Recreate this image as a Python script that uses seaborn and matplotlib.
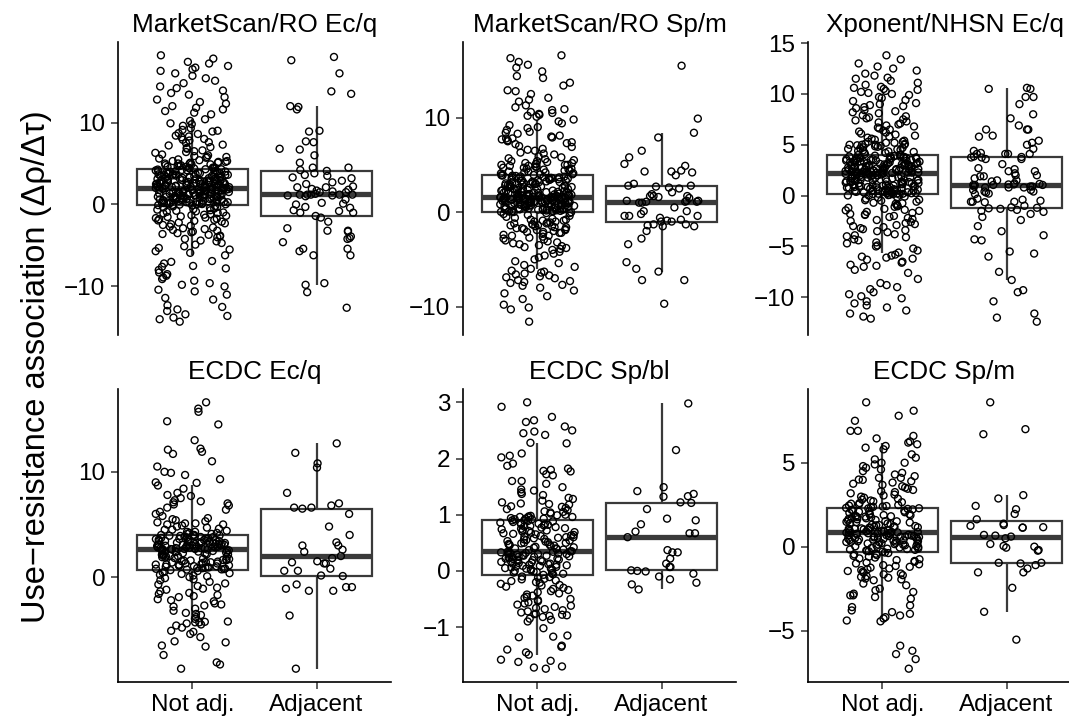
import numpy as np
import pandas as pd
import matplotlib
matplotlib.use("Agg")
import matplotlib.pyplot as plt
from matplotlib.collections import PathCollection
from matplotlib.ticker import MultipleLocator
import seaborn as sns

# ---------------- data ----------------
panel_titles = ["MarketScan/RO Ec/q", "MarketScan/RO Sp/m", "Xponent/NHSN Ec/q",
                "ECDC Ec/q", "ECDC Sp/bl", "ECDC Sp/m"]
groups = ["Not adj.", "Adjacent"]
y_label = "Use\u2212resistance association (\u0394\u03c1/\u0394\u03c4)"

p1_not = [
    18.2, 17.8, 17.4, 17.2, 16.9, 16.7, 16.5, 16.3, 16.0, 15.7, 15.4, 15.1, 14.8, 14.4,
    14.2, 13.9, 13.6, 13.4, 13.1, 12.8, 12.5, 12.3, 12.0, 11.8, 11.6, 11.4, 11.2, 11.0,
    10.4, 10.2, 9.9, 9.8, 9.6, 9.3, 9.1, 9.0,
    8.9, 8.7, 8.6, 8.4, 8.3, 8.2, 8.0, 7.9, 7.8, 7.6, 7.5, 7.3, 7.2, 7.0, 6.9, 6.8, 6.6,
    6.5, 6.4, 6.3, 6.1, 6.0, 5.9, 5.8, 5.8, 5.7, 5.6, 5.5, 5.4, 5.3, 5.3, 5.2, 5.2, 5.1,
    5.1, 5.0, 5.0, 5.0,
    4.9, 4.9, 4.8, 4.8, 4.7, 4.7, 4.6, 4.6, 4.5, 4.5, 4.5, 4.4, 4.4, 4.4, 4.3, 4.3,
    3.12, 2.45, 4.08, 2.87, 3.66, 2.19, 3.94, 2.71, 3.38, 2.03,
    2.56, 4.21, 3.02, 2.34, 3.81, 2.92, 2.11, 3.47, 4.15, 2.63,
    3.29, 2.08, 3.73, 2.49, 2.98, 4.02, 2.27, 3.55, 2.81, 3.17,
    2.14, 3.88, 2.67, 3.41, 2.39, 4.26, 3.06, 2.52, 3.62, 2.22,
    2.95, 3.34, 2.06, 3.99, 2.76, 3.21, 2.43, 3.77, 2.31, 4.11,
    2.59, 3.09, 2.17, 3.51, 2.84, 3.68, 2.01, 3.26, 2.68, 3.86,
    2.25, 3.44, 2.91, 4.18, 2.37, 3.14, 2.79, 3.59, 2.12, 3.71,
    2.48, 3.97, 2.64, 3.36, 2.04, 3.83, 2.89, 3.24, 2.55, 4.05,
    2.29, 3.57, 2.73, 3.11, 2.16, 3.48, 2.97, 2.41, 3.79, 2.61,
    1.12, 0.45, 1.87, 0.08, 1.36, 0.71, 1.64, 0.23, 1.95, 0.97,
    0.54, 1.48, -0.05, 1.21, 0.86, 1.73, 0.31, 1.05, 1.58, 0.15,
    1.91, 0.62, 1.29, 0.02, 1.44, 0.79, 1.68, 0.38, 1.16, 0.93,
    0.27, 1.82, 0.69, 1.33, -0.08, 1.52, 0.49, 1.09, 1.77, 0.11,
    1.39, 0.84, 1.62, 0.19, 1.98, 0.57, 1.26, 0.42, 1.71, 0.99,
    0.05, 1.55, 0.74, 1.18, 0.35, 1.85, 0.64, 1.42, 0.13, 1.03,
    1.66, 0.28, 1.24, 0.89, 1.93, 0.47, 1.57, 0.76, 1.14, 0.21,
    0.59, 1.79, 0.03, 1.31, 0.95, 1.47, 0.33, 1.69, 0.82, 1.07,
    1.88, 0.17, 1.35, 0.67, 1.61, 0.51, 1.19, -0.02, 1.74, 0.91,
    -14.3, -14.0, -13.8, -13.6, -13.4, -13.0, -12.8, -12.5, -12.3, -11.6, -11.4, -11.0,
    -10.6, -10.4, -10.0, -9.8, -9.6, -9.3, -9.1, -8.9, -8.7, -8.5, -8.3, -8.0, -7.8,
    -7.6, -7.5, -7.2, -7.0, -6.9,
    -6.2, -5.9, -5.7, -5.5, -5.3, -5.1,
    -4.9, -4.7, -4.5, -4.4, -4.2, -4.0, -3.9, -3.8, -3.7, -3.6, -3.5, -3.4, -3.3, -3.2,
    -3.1, -3.0, -2.9, -2.8, -2.7, -2.6, -2.5, -2.4, -2.3, -2.2, -2.1, -2.0,
    -1.95, -1.88, -1.8, -1.74, -1.66, -1.6, -1.52, -1.45, -1.38, -1.31, -1.25, -1.18,
    -1.1, -1.04, -0.97, -0.9, -0.84, -0.77, -0.7, -0.63, -0.57, -0.5, -0.44, -0.37,
    -0.3, -0.24, -0.17, -0.12,
]
p1_adj = [
    17.6, 18.0, 16.0, 13.8, 13.5, 11.9, 11.6, 12.0, 9.0, 8.9, 7.7, 7.6, 6.7, 6.8, 6.0,
    5.1, 4.5, 4.5, 3.3, 4.1, 3.5, 4.2, 3.8, 3.2, 3.6, 2.7, 2.9, 2.5, 2.2, 2.1, 1.7, 1.6,
    1.2, 1.1, 1.2, 1.8, 1.5, 2.1, 1.9, 1.5, 1.2, 1.3, 1.0, 1.2, 1.2, 1.1, 0.6, 0.1, 0.0,
    -0.3, 0.2, -0.8, -0.4, -1.0, -1.0, -0.7, -1.4, -1.6, -2.1, -2.9, -3.2, -3.3, -4.2,
    -4.1, -3.2, -3.9, -4.6, -5.4, -5.7, -5.4, -6.2, -6.2, -9.6, -9.8, -10.7, -12.6,
]

p2_not = [
    16.6, 16.3, 15.9, 15.6, 15.3, 14.9, 14.4, 14.2, 13.7, 13.4, 12.9, 12.8, 12.5, 12.1,
    11.9, 11.7, 11.3, 11.1, 10.9, 10.8, 10.6, 10.5, 10.4, 10.3, 10.2, 10.1,
    9.8, 9.6, 9.4, 9.2, 9.0, 8.9, 8.7, 8.5,
    8.4, 8.3, 8.1, 8.0, 7.9, 7.8, 7.8, 7.7, 7.6, 7.5, 7.4, 7.3, 7.2, 7.0, 6.9, 6.7, 6.6,
    6.5, 6.3, 6.2, 6.1, 5.9, 5.8, 5.7, 5.6, 5.5, 5.4, 5.4, 5.3, 5.2, 5.2, 5.1, 5.1, 5.0,
    5.0, 5.0,
    4.9, 4.9, 4.8, 4.8, 4.7, 4.7, 4.6, 4.6, 4.5, 4.5, 4.4, 4.4, 4.3, 4.3, 4.2, 4.2, 4.1,
    4.1, 4.0, 4.0,
    2.12, 3.45, 1.78, 2.96, 3.71, 1.63, 2.54, 3.18, 1.94, 3.87,
    2.38, 1.71, 3.29, 2.81, 1.59, 3.62, 2.07, 3.04, 2.47, 1.86,
    3.53, 2.23, 1.67, 3.91, 2.69, 1.99, 3.36, 2.58, 1.81, 3.09,
    2.74, 3.78, 1.61, 2.31, 3.22, 2.01, 3.57, 1.75, 2.88, 3.41,
    1.92, 3.14, 2.43, 3.83, 1.69, 2.63, 3.48, 2.17, 1.84, 2.99,
    3.67, 2.28, 1.58, 3.33, 2.91, 1.96, 3.75, 2.51, 2.04, 3.25,
    1.73, 2.77, 3.58, 2.19, 3.93, 1.65, 2.41, 3.11, 1.89, 2.66,
    3.44, 2.09, 2.84, 1.62, 3.68, 2.35, 3.01, 1.77, 2.56, 3.86,
    2.26, 3.39, 1.82, 2.93, 2.14, 3.63, 1.57, 2.71, 3.19, 2.45,
    0.82, 0.13, 1.41, 0.57, 1.09, -0.02, 1.28, 0.36, 0.95, 1.52,
    0.24, 1.17, 0.68, 1.46, 0.05, 0.88, 1.33, 0.44, 1.02, 0.71,
    1.38, 0.29, 0.93, 1.21, 0.09, 1.49, 0.61, 1.07, 0.39, 1.26,
    0.52, 1.44, 0.17, 0.79, 1.12, 0.32, 1.55, 0.66, 0.98, 0.01,
    1.31, 0.47, 1.05, 0.21, 1.36, 0.74, 1.19, 0.11, 0.86, 1.47,
    0.34, 0.97, 1.24, 0.59, 1.51, 0.07, 0.83, 1.14, 0.42, 1.29,
    1.03, 0.19, 1.42, 0.64, 0.91, 1.34, 0.27, 1.16, 0.55, 0.76,
    1.48, 0.38, 0.85, 1.09, 0.03, 1.27, 0.69, 1.39, 0.49, 0.94,
    0.15, 1.22, 0.78, 1.45, 0.31, 1.01, 0.58, 1.53, 0.26, 0.89,
    -11.6, -10.3, -10.1, -9.8, -9.2, -8.9, -8.6, -8.3, -8.0, -7.8, -7.7, -7.5, -7.4,
    -7.3, -7.2, -7.0, -6.9, -6.8, -6.7, -6.6, -6.5, -6.4, -6.3, -6.2,
    -6.0, -5.8, -5.6, -5.4, -5.2, -5.0, -4.8, -4.6, -4.4, -4.2,
    -4.0, -3.9, -3.8, -3.7, -3.6, -3.5, -3.4, -3.3, -3.2, -3.1, -3.0, -2.9, -2.8, -2.7,
    -2.6, -2.5, -2.5, -2.4, -2.3, -2.2, -2.2, -2.1, -2.1, -2.0,
    -1.9, -1.9, -1.8, -1.8, -1.7, -1.7, -1.6, -1.6, -1.5, -1.5, -1.4, -1.4, -1.3, -1.3,
    -1.2, -1.2, -1.1, -1.1, -1.0, -1.0, -0.9, -0.9, -0.8, -0.8, -0.7, -0.6, -0.5, -0.4,
    -0.3, -0.2, -0.1, -0.1,
]
p2_adj = [
    15.5, 9.9, 8.4, 7.9, 6.5, 5.8, 4.3, 4.3, 4.2, 5.1, 4.9, 4.4, 3.9, 3.0, 2.8, 2.5,
    2.1, 1.9, 1.7, 1.2, 1.2, 1.2, 1.1, 1.1, 1.6, 1.7, 1.0, 0.5, 1.0, 1.7, 1.5, 2.7, 2.8,
    2.6, 1.1, 0.1, -0.4, -0.9, 0.1, -0.2, -0.6, -0.4, -1.3, -1.5, -1.3, -1.0, -1.0, -0.4,
    -1.5, -0.8, -2.8, -3.4, -5.3, -6.0, -7.2, -7.2, -6.3, -9.7, -1.4, -2.0,
]

p3_not = [
    13.8, 13.4, 13.0, 12.7, 12.5, 12.3, 12.0, 11.8, 11.6, 11.5, 11.3, 11.1, 10.9, 10.7,
    10.6, 10.5, 10.4, 10.3, 10.2, 10.1, 10.0, 9.9,
    9.7, 9.6, 9.4, 9.3, 9.1, 9.0, 8.9, 8.8, 8.7, 8.6, 8.4, 8.3, 8.2, 8.1,
    7.9, 6.2, 7.4, 5.3, 6.8, 7.7, 5.6, 6.5, 7.1, 5.0, 6.0, 7.8, 5.4, 6.7, 7.3, 5.2, 6.3,
    7.6, 5.8, 6.9, 5.1, 7.0, 6.1, 5.5, 7.5, 6.6, 5.0, 5.9, 7.2, 5.3, 6.4, 5.7, 5.1, 5.2,
    5.0, 5.0,
    4.95, 4.9, 4.85, 4.8, 4.75, 4.7, 4.65, 4.6, 4.55, 4.5, 4.45, 4.4, 4.35, 4.3, 4.25,
    4.2, 4.1, 4.05,
    3.12, 2.45, 3.88, 2.71, 3.36, 2.24, 3.63, 2.97, 2.53, 3.91,
    2.33, 3.47, 2.86, 3.74, 2.28, 3.05, 2.61, 3.57, 2.39, 3.21,
    3.82, 2.67, 3.15, 2.21, 3.42, 2.92, 2.49, 3.69, 2.77, 3.28,
    2.57, 3.96, 2.36, 3.09, 2.83, 3.51, 2.26, 3.34, 2.64, 3.78,
    3.01, 2.42, 3.66, 2.89, 2.31, 3.19, 2.74, 3.85, 2.51, 3.44,
    2.69, 3.27, 2.23, 3.59, 2.95, 3.07, 2.47, 3.72, 2.35, 3.93,
    3.38, 2.79, 3.11, 2.55, 3.81, 2.29, 3.49, 2.66, 3.24, 2.98,
    2.41, 3.62, 2.84, 3.31, 2.22, 3.76, 2.59, 3.03, 2.73, 3.54,
    3.17, 2.37, 3.86, 2.62, 3.46, 2.91, 2.27, 3.68, 2.81, 3.99,
    1.12, 0.45, 1.87, 0.28, 1.36, 0.71, 2.04, 0.93, 1.64, 0.19,
    1.51, 0.62, 1.95, 0.37, 1.23, 0.84, 2.15, 0.51, 1.77, 1.02,
    0.24, 1.43, 0.79, 1.69, 0.16, 1.31, 2.09, 0.57, 1.16, 0.98,
    1.84, 0.33, 1.58, 0.67, 2.12, 0.88, 1.27, 0.42, 1.99, 0.74,
    0.53, 1.39, 0.21, 1.73, 1.06, 1.92, 0.61, 1.48, 0.35, 2.18,
    1.19, 0.81, 1.61, 0.14, 1.34, 0.96, 1.81, 0.47, 2.01, 0.69,
    1.56, 0.26, 1.09, 1.89, 0.58, 1.41, 0.77, 2.07, 0.39, 1.28,
    0.91, 1.66, 0.31, 1.21, 0.85, 1.97, 0.54, 1.46, 0.18, 1.75,
    1.04, 0.64, 1.53, 0.44, 2.14, 0.99, 1.37, 0.23, 1.79, 0.86,
    -12.1, -11.9, -11.6, -11.3, -11.0, -10.8, -10.6, -10.4, -10.1, -9.9, -9.7, -9.5,
    -9.2, -9.0, -8.8, -8.6, -8.2, -7.6, -7.3, -7.0, -6.9, -6.8, -6.6, -6.5, -6.3, -6.2,
    -6.1, -6.0, -5.9, -5.8,
    -5.6, -5.4, -5.2, -5.0, -4.9, -4.7, -4.6, -4.4, -4.3, -4.1, -4.0, -3.9, -3.8, -3.6,
    -3.5, -3.4, -3.3, -3.2, -3.1, -3.0,
    -2.9, -2.8, -2.7, -2.6, -2.5, -2.4, -2.3, -2.2, -2.1, -2.0, -1.9, -1.85, -1.8, -1.7,
    -1.6, -1.5, -1.45, -1.4, -1.3, -1.2, -1.1, -1.05, -1.0, -0.9, -0.8, -0.75, -0.7,
    -0.6, -0.5, -0.45, -0.4, -0.3, -0.2, -0.15, -0.1, 0.0, 0.02, 0.05, 0.08, 0.1,
]
p3_adj = [
    10.5, 10.5, 10.6, 9.7, 9.7, 9.0, 7.6, 8.0, 6.5, 6.9, 6.5, 6.5, 5.8, 5.9, 5.4, 5.0,
    4.2, 4.1, 4.1, 4.6, 4.1, 4.1, 3.6, 3.75, 3.75, 3.85, 3.6, 3.8, 3.1, 2.4, 1.9, 1.9,
    2.2, 2.4, 2.7, 2.0, 2.0, 2.6, 1.5, 1.2, 1.7, 1.4, 1.5, 1.1, 1.1, 1.05, 1.05, 1.05,
    1.15, 0.9, 0.9, 1.05, 0.8, 0.55, 0.4, 0.3, 0.2, 0.8, 0.8, 0.4, 0.15, 0.55, 0.9,
    -0.3, -0.4, -0.6, -0.65, -1.25, -1.0, -0.6, -0.5, -0.6, -1.5, -1.4, -3.0, -3.9,
    -3.5, -4.3, -4.4, -5.5, -5.7, -6.0, -7.5, -8.3, -9.5, -9.3, -10.4, -12.0, -11.6,
    -12.4, -1.3, -1.6, -2.1, -1.8, -1.2, -1.15, -2.4, 4.4, 5.2,
]

p4_not = [
    16.6, 16.0, 15.7, 14.8, 14.5, 13.0, 12.2, 12.1, 11.9, 11.7, 11.0, 10.5, 10.0, 9.9,
    9.7, 9.3, 9.0, 8.95,
    8.7, 8.4, 8.0, 7.8, 7.7, 7.5, 7.3, 7.2, 7.1, 7.0, 6.9, 6.8, 6.6, 6.4, 6.2, 6.0, 5.8,
    5.6, 5.5, 5.4, 5.3, 5.2, 5.1, 5.1, 5.0, 5.0,
    4.9, 4.8, 4.7, 4.6, 4.5, 4.5, 4.4, 4.3, 4.3, 4.2, 4.2, 4.1, 4.1, 4.0, 4.0, 4.0,
    3.12, 2.71, 3.84, 2.95, 3.46, 2.67, 3.63, 3.05, 2.88, 3.91,
    3.27, 2.79, 3.55, 2.64, 3.38, 3.01, 3.77, 2.92, 3.19, 2.83,
    3.69, 2.74, 3.31, 3.93, 2.98, 3.48, 2.69, 3.22, 3.81, 3.09,
    2.86, 3.58, 3.14, 2.77, 3.42, 3.72, 2.66, 3.35, 2.99, 3.88,
    3.24, 2.81, 3.67, 3.03, 3.51, 2.73, 3.17, 3.95, 2.91, 3.44,
    2.68, 3.29, 3.79, 3.07, 2.85, 3.61, 3.36, 2.76, 3.53, 3.11,
    1.52, 0.84, 2.31, 1.17, 1.96, 0.73, 2.48, 1.35, 1.04, 2.14,
    1.81, 0.95, 2.57, 1.26, 2.02, 0.79, 1.63, 2.39, 1.11, 1.44,
    2.22, 0.88, 1.71, 1.38, 2.55, 1.07, 1.89, 0.76, 2.09, 1.58,
    1.29, 2.44, 0.92, 1.75, 2.17, 1.21, 2.61, 1.47, 0.99, 1.93,
    2.35, 1.14, 1.67, 0.81, 2.06, 1.41, 2.52, 1.02, 1.84, 1.31,
    0.86, 2.27, 1.55, 2.59, 1.19, 1.99, 0.71, 2.42, 1.61, 2.12,
    -8.7, -8.3, -8.1, -7.4, -6.6, -6.5, -6.2, -6.1, -5.7, -5.4, -5.2, -5.1, -4.8, -4.6,
    -4.5, -4.4, -4.3, -4.3, -4.25, -4.22,
    -3.97, -3.8, -3.6, -3.5, -3.4, -3.2, -3.0, -2.8, -2.7, -2.6, -2.5, -2.3, -2.2, -2.1,
    0.66, 0.58, 0.51, 0.44, 0.37, 0.3, 0.22, 0.15, 0.08, 0.0, -0.1, -0.2, -0.3, -0.45,
    -0.6, -0.7, -0.85, -1.0, -1.1, -1.2, -1.35, -1.5, -1.6, -1.7, -1.8, -1.9,
]
p4_adj = [
    12.7, 11.8, 10.8, 10.4, 8.0, 7.0, 6.8, 6.6, 6.6, 6.5, 6.0, 4.8, 4.0, 3.3, 3.0, 3.0,
    2.6, 2.4, 2.0, 1.8, 1.5, 1.4, 1.3, 1.3, 0.8, 0.6, 0.6, 0.15, 0.1, -0.7, -0.95,
    -0.95, -1.1, -1.3, -1.3, -3.65, -8.7,
]

p5_not = [
    3.0, 2.92, 2.74, 2.68, 2.65, 2.57, 2.5, 2.48, 2.45, 2.42,
    2.28, 2.27, 2.09, 2.05, 2.02, 1.91, 1.87, 1.82, 1.8, 1.78, 1.77, 1.72, 1.7, 1.6, 1.6,
    1.55,
    1.49, 1.45, 1.43, 1.4, 1.37, 1.35, 1.3, 1.28, 1.25, 1.22, 1.2, 1.19, 1.18, 1.15, 1.14,
    1.12, 1.1, 1.08, 1.06, 1.05, 1.04, 1.02, 1.0, 0.99, 0.98, 0.97, 0.96, 0.96, 0.95,
    0.94, 0.93, 0.93, 0.92, 0.92,
    0.52, 0.71, 0.39, 0.84, 0.61, 0.45, 0.77, 0.58, 0.9, 0.42,
    0.66, 0.37, 0.81, 0.54, 0.73, 0.48, 0.88, 0.63, 0.41, 0.69,
    0.79, 0.5, 0.86, 0.44, 0.6, 0.75, 0.38, 0.83, 0.56, 0.67,
    0.47, 0.89, 0.62, 0.4, 0.74, 0.53, 0.82, 0.46, 0.7, 0.57,
    0.85, 0.43, 0.68, 0.59, 0.8, 0.49, 0.64, 0.87, 0.51, 0.72,
    0.55, 0.78, 0.4, 0.65, 0.9, 0.47, 0.76, 0.6, 0.83, 0.5,
    0.12, 0.31, -0.05, 0.22, 0.04, 0.27, 0.16, -0.02, 0.34, 0.09,
    0.25, 0.01, 0.19, 0.33, 0.07, -0.06, 0.29, 0.14, 0.21, 0.03,
    0.35, 0.11, 0.26, -0.03, 0.18, 0.3, 0.06, 0.23, 0.13, 0.32,
    0.02, 0.2, 0.28, 0.1, -0.07, 0.24, 0.15, 0.34, 0.05, 0.17,
    0.29, 0.08, 0.22, 0.32, -0.01, 0.13, 0.27, 0.19, 0.0, 0.31,
    0.16, 0.35, 0.04, 0.25, 0.11, 0.2, -0.04, 0.3, 0.09, 0.24,
    -1.74, -1.72, -1.7, -1.62, -1.6, -1.58,
    -1.49, -1.45, -1.4, -1.35, -1.33, -1.18, -1.17, -1.15, -1.02, -0.9, -0.87, -0.85,
    -0.82, -0.8,
    -0.1, -0.11, -0.12, -0.14, -0.15, -0.17, -0.18, -0.2, -0.21, -0.23, -0.25, -0.26,
    -0.28, -0.3, -0.32, -0.34, -0.36, -0.38, -0.4, -0.42, -0.44, -0.46, -0.48, -0.5,
    -0.52, -0.54, -0.56, -0.58, -0.6, -0.62, -0.64, -0.66, -0.68, -0.7, -0.72, -0.74,
    -0.76, -0.77, -0.78, -0.79,
]
p5_adj = [
    2.98, 2.15, 1.49, 1.42, 1.37, 1.33, 1.32, 1.22, 1.21, 1.10, 0.93, 0.9, 0.83, 0.7,
    0.67, 0.67, 0.6, 0.37, 0.33, 0.33, 0.22, 0.13, 0.07, 0.07, 0.01, 0.0, -0.01, -0.05,
    -0.1, -0.15, -0.21, -0.24, -0.33,
]

p6_not = [
    8.6, 8.1, 7.8, 7.5, 6.9, 6.9, 6.6, 6.45,
    6.27, 6.2, 6.1, 6.0, 5.9, 5.8, 5.5, 5.3, 5.2, 5.0, 5.0, 4.9, 4.8, 4.7, 4.6, 4.5, 4.4,
    4.3, 4.2, 4.1, 4.1, 4.0,
    3.98, 3.9, 3.82, 3.75, 3.68, 3.6, 3.52, 3.45, 3.38, 3.3, 3.25, 3.18, 3.1, 3.05, 2.98,
    2.92, 2.86, 2.8, 2.75, 2.7, 2.65, 2.6, 2.56, 2.52, 2.48, 2.45, 2.42, 2.39, 2.37, 2.35,
    1.52, 0.94, 2.11, 1.27, 1.83, 0.89, 2.28, 1.41, 1.06, 1.97,
    1.18, 2.05, 0.92, 1.66, 1.35, 2.22, 1.01, 1.74, 1.48, 0.97,
    2.17, 1.23, 1.59, 0.88, 1.91, 1.12, 2.31, 1.44, 1.79, 1.03,
    1.31, 2.08, 0.99, 1.69, 1.15, 1.87, 0.91, 2.25, 1.56, 1.38,
    1.94, 1.09, 1.63, 2.14, 1.21, 0.87, 1.76, 1.46, 2.02, 1.14,
    1.07, 1.81, 2.19, 1.29, 0.95, 1.71, 1.51, 2.29, 1.19, 1.88,
    0.42, -0.11, 0.71, 0.18, 0.55, -0.27, 0.83, 0.29, 0.04, 0.63,
    0.12, 0.77, -0.19, 0.48, 0.35, 0.81, -0.05, 0.59, 0.23, 0.68,
    0.79, 0.08, 0.51, -0.23, 0.38, 0.66, 0.15, 0.84, -0.14, 0.45,
    0.26, 0.61, -0.08, 0.73, 0.32, 0.02, 0.57, -0.3, 0.47, 0.19,
    0.69, -0.17, 0.4, 0.85, 0.11, 0.53, -0.02, 0.75, 0.28, 0.36,
    -0.25, 0.64, 0.21, 0.5, 0.06, 0.8, -0.12, 0.44, 0.33, 0.6,
    -7.27, -6.7, -6.4, -6.2, -5.9, -4.45, -4.4,
    -4.28, -4.2, -4.1, -4.0, -3.9, -3.8, -3.6, -3.5, -3.1, -3.0, -2.9, -2.9, -2.8, -2.7,
    -2.6, -2.5, -2.3, -2.2,
    -0.35, -0.38, -0.42, -0.46, -0.5, -0.55, -0.6, -0.65, -0.7, -0.75, -0.8, -0.85, -0.9,
    -0.95, -1.0, -1.05, -1.1, -1.15, -1.2, -1.25, -1.3, -1.35, -1.4, -1.45, -1.5, -1.55,
    -1.6, -1.65, -1.7, -1.75, -1.8, -1.85, -1.9, -1.95, -2.0,
]
p6_adj = [
    8.6, 7.0, 6.7, 3.07, 2.87, 2.43, 2.23, 1.95, 1.63, 1.37, 1.29, 1.13, 0.7, 0.6, 1.16,
    1.24, 1.14, 0.66, 0.5, 0.16, 0.04, -0.06, -0.24, 0.0, -0.2, -0.96, -0.96, -1.3,
    -1.1, -1.53, -1.53, -2.45, -3.88, -5.54, -1.0,
]

panel_values = [(p1_not, p1_adj), (p2_not, p2_adj), (p3_not, p3_adj),
                (p4_not, p4_adj), (p5_not, p5_adj), (p6_not, p6_adj)]
tick_steps = [10, 10, 5, 10, 1, 5]

# ---------------- style ----------------
sns.set_theme(style="white")
plt.rcParams["font.family"] = ["Liberation Sans", "DejaVu Sans"]
plt.rcParams["axes.unicode_minus"] = True

W, H = 1069, 721
fig = plt.figure(figsize=(W / 100, H / 100), dpi=100)
fig.patch.set_facecolor("white")

col_left = [118, 463, 808]
row_top = [42, 389]
pw, ph = 273, 293

np.random.seed(7)
for i, (title, (nv, av)) in enumerate(zip(panel_titles, panel_values)):
    r, c = divmod(i, 3)
    ax = fig.add_axes([col_left[c] / W, 1 - (row_top[r] + ph) / H, pw / W, ph / H])
    ax.set_facecolor("white")
    df = pd.DataFrame({
        "group": [groups[0]] * len(nv) + [groups[1]] * len(av),
        "value": list(nv) + list(av),
    })
    sns.boxplot(data=df, x="group", y="value", order=groups, width=0.9,
                color="white", linecolor="#3a3a3a", linewidth=1.6, saturation=1,
                showfliers=False, showcaps=False, whis=1.5,
                medianprops={"linewidth": 3.8, "color": "#3a3a3a"}, ax=ax)
    sns.stripplot(data=df, x="group", y="value", order=groups, jitter=0.3,
                  size=5.0, color="black", edgecolor="black", linewidth=1.0,
                  zorder=3, ax=ax)
    for coll in ax.collections:
        if isinstance(coll, PathCollection):
            coll.set_facecolor("none")
            coll.set_edgecolor("black")
            coll.set_linewidth(1.0)

    allv = np.array(list(nv) + list(av))
    lo, hi = allv.min(), allv.max()
    pad = 0.05 * (hi - lo)
    ax.set_ylim(lo - pad, hi + pad)
    ax.set_xlim(-0.6, 1.6)
    ax.yaxis.set_major_locator(MultipleLocator(tick_steps[i]))
    ax.set_xlabel("")
    ax.set_ylabel("")
    ax.set_title(title, fontsize=18.8, pad=7, color="black")

    for s in ["top", "right"]:
        ax.spines[s].set_visible(False)
    ax.spines["left"].set_color("black")
    ax.spines["left"].set_linewidth(1.2)
    ax.tick_params(axis="y", which="major", direction="out", length=5, width=1.1,
                   color="#333333", labelsize=17.5, labelcolor="black", pad=4, left=True)
    if r == 0:
        ax.spines["bottom"].set_visible(False)
        ax.tick_params(axis="x", bottom=False, labelbottom=False)
    else:
        ax.spines["bottom"].set_color("black")
        ax.spines["bottom"].set_linewidth(1.2)
        ax.tick_params(axis="x", which="major", direction="out", length=5, width=1.1,
                       color="#333333", labelsize=17.5, labelcolor="black", pad=4,
                       bottom=True)
    ax.grid(False)

fig.text(37 / W, 1 - 367 / H, y_label, rotation=90, ha="center", va="center",
         fontsize=23.5, color="black")

fig.savefig("out.png", dpi=100, facecolor="white")
